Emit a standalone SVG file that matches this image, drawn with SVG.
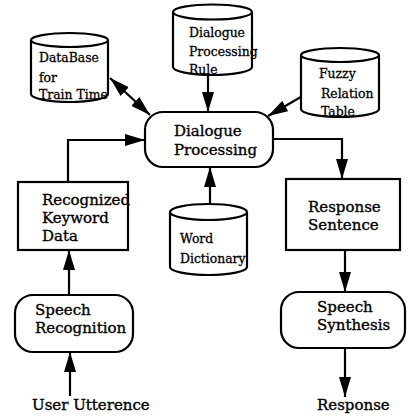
<svg xmlns="http://www.w3.org/2000/svg" width="408" height="419" viewBox="0 0 408 419">
<style>
.s{fill:#fff;stroke:#000;stroke-width:2.2}
.t{font-family:"DejaVu Serif","Liberation Serif",serif;font-size:15px;fill:#000;stroke:#000;stroke-width:0.35}
.ts{font-family:"DejaVu Serif","Liberation Serif",serif;font-size:12.4px;fill:#000;stroke:#000;stroke-width:0.3}
.c{fill:none;stroke:#000;stroke-width:2.2}
</style>
<defs>
<marker id="ah" markerUnits="userSpaceOnUse" markerWidth="22" markerHeight="12" refX="20" refY="6" orient="auto-start-reverse" viewBox="0 0 22 12">
<path d="M0,0 L20,6 L0,12 z" fill="#000"/>
</marker>
</defs>
<rect width="408" height="419" fill="#fff"/>
<g id="connectors">
<line class="c" x1="208" y1="75" x2="208" y2="112" marker-end="url(#ah)"/>
<line class="c" x1="110" y1="78" x2="150" y2="115" marker-start="url(#ah)" marker-end="url(#ah)"/>
<line class="c" x1="306" y1="94" x2="268" y2="116" marker-end="url(#ah)"/>
<path class="c" d="M68,182 V140 H145" marker-end="url(#ah)"/>
<line class="c" x1="210" y1="204" x2="210" y2="167" marker-end="url(#ah)"/>
<path class="c" d="M273,139 H342 V179" marker-end="url(#ah)"/>
<line class="c" x1="345" y1="250" x2="345" y2="292" marker-end="url(#ah)"/>
<line class="c" x1="345" y1="348" x2="345" y2="397" marker-end="url(#ah)"/>
<line class="c" x1="69" y1="295" x2="69" y2="250" marker-end="url(#ah)"/>
<line class="c" x1="70" y1="396" x2="70" y2="352" marker-end="url(#ah)"/>
</g>
<g id="database">
<path class="s" d="M31,40 V94 A38.5,8 0 0 0 108,94 V40 A38.5,7 0 0 0 31,40 A38.5,7 0 0 0 108,40"/>
<text class="ts" x="39" y="62">DataBase</text>
<text class="ts" x="39" y="82">for</text>
<text class="ts" x="39" y="99">Train Time</text>
</g>
<g id="rule">
<path class="s" d="M173,12 V67 A39.5,8 0 0 0 252,67 V12 A39.5,7.5 0 0 0 173,12 A39.5,7.5 0 0 0 252,12"/>
<text class="ts" x="189" y="37">Dialogue</text>
<text class="ts" x="189" y="56">Processing</text>
<text class="ts" x="189" y="74">Rule</text>
</g>
<g id="fuzzy">
<path class="s" d="M301,55 V109 A39,8 0 0 0 379,109 V55 A39,7 0 0 0 301,55 A39,7 0 0 0 379,55"/>
<text class="ts" x="319" y="78">Fuzzy</text>
<text class="ts" x="321" y="98">Relation</text>
<text class="ts" x="321" y="116">Table</text>
</g>
<g id="dialogue">
<rect class="s" x="145" y="112" width="128" height="55" rx="18"/>
<text class="t" x="174" y="136">Dialogue</text>
<text class="t" x="174" y="155">Processing</text>
</g>
<g id="keyword">
<rect class="s" x="18" y="182" width="110" height="68"/>
<text class="t" x="42" y="205">Recognized</text>
<text class="t" x="42" y="223">Keyword</text>
<text class="t" x="42" y="241">Data</text>
</g>
<g id="dictionary">
<path class="s" d="M170,212 V267 A38.5,8 0 0 0 247,267 V212 A38.5,8 0 0 0 170,212 A38.5,8 0 0 0 247,212"/>
<text class="ts" x="180" y="243">Word</text>
<text class="ts" x="180" y="263">Dictionary</text>
</g>
<g id="sentence">
<rect class="s" x="286" y="179" width="114" height="71"/>
<text class="t" x="308" y="212">Response</text>
<text class="t" x="308" y="230">Sentence</text>
</g>
<g id="recognition">
<rect class="s" x="15" y="295" width="118" height="57" rx="18"/>
<text class="t" x="35" y="315">Speech</text>
<text class="t" x="35" y="333">Recognition</text>
</g>
<g id="synthesis">
<rect class="s" x="281" y="292" width="124" height="56" rx="18"/>
<text class="t" x="317" y="312">Speech</text>
<text class="t" x="317" y="330">Synthesis</text>
</g>
<g id="labels">
<text class="t" x="32" y="410">User Utterence</text>
<text class="t" x="317" y="410">Response</text>
</g>
</svg>
